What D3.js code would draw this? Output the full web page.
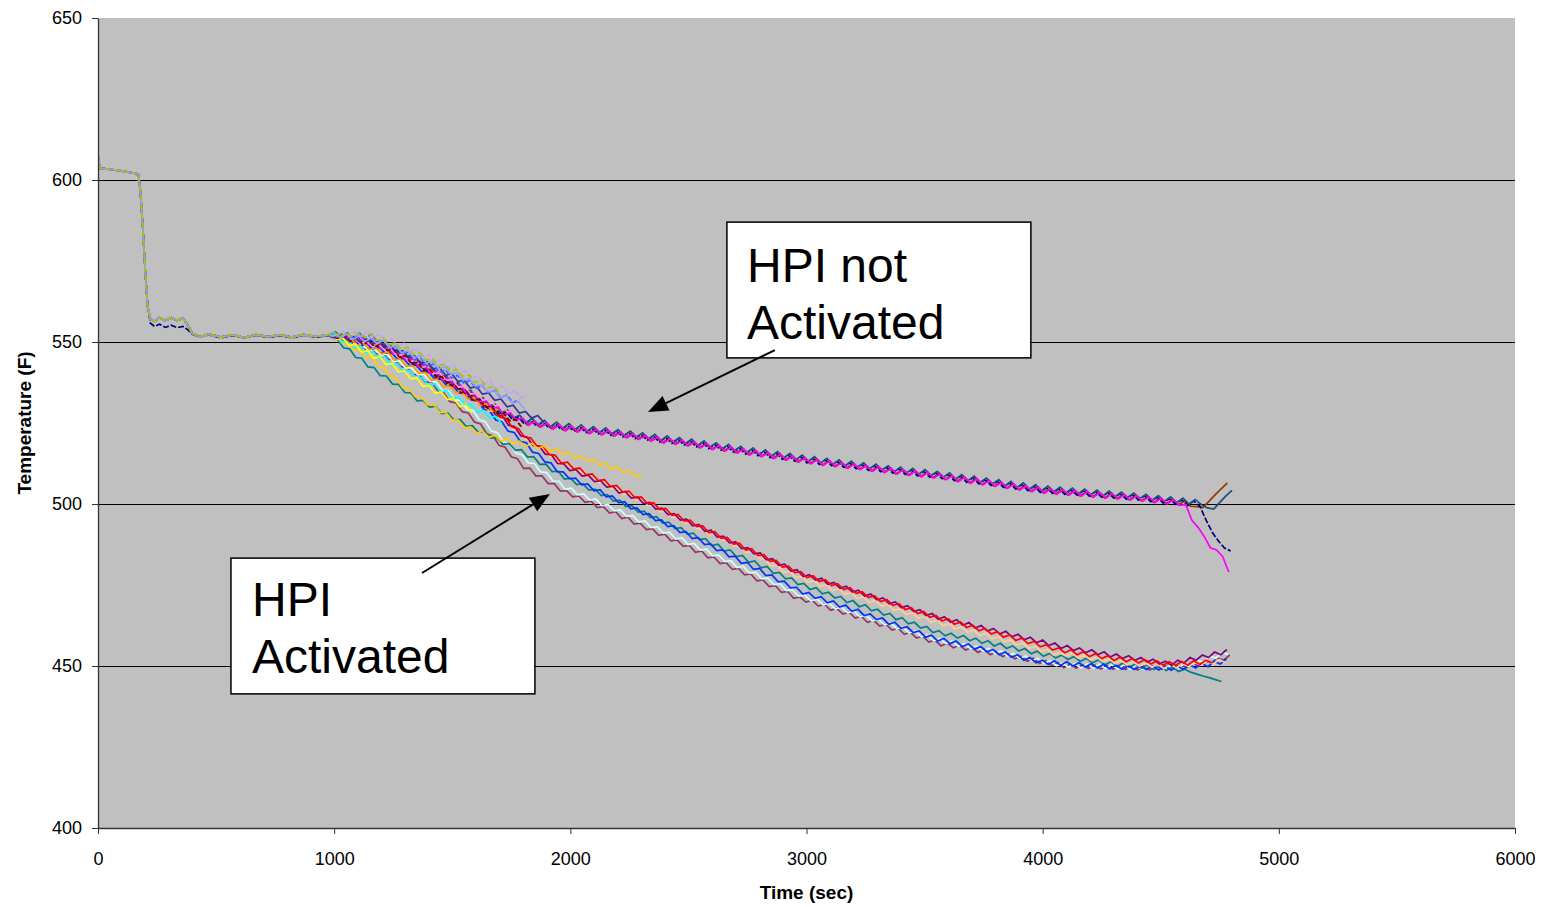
<!DOCTYPE html>
<html>
<head>
<meta charset="utf-8">
<script src="https://cdn.jsdelivr.net/npm/d3@7"></script>
<style>
  body { margin: 0; background: #fff; }
  text { font-family: "Liberation Sans", Arial, sans-serif; }
</style>
</head>
<body>
<svg id="chart" width="1545" height="907"></svg>
<script>
// logger sample interval (sec) for the traces after the common start-up part
var SAMPLE_STEP = 26;

// common start-up transient (0 - 970 sec), identical for all the runs
var prefixTimes = [0, 8, 40, 100, 160, 172, 180, 190, 200, 210, 222, 240, 260, 285, 310, 335, 360, 380, 400, 430, 470, 520, 570, 620, 670, 720, 770, 820, 870, 920, 970];
var prefixA = [607.5, 603.6, 603.4, 602.8, 602.0, 601.5, 596, 585, 572, 561, 557, 556.4, 557.5, 556.6, 557.5, 556.7, 557.3, 555.2, 552.6, 551.6, 552.4, 551.5, 552.2, 551.4, 552.3, 551.6, 552.2, 551.5, 552.3, 551.7, 552.1];
var prefixB = [607.5, 603.6, 603.4, 602.8, 602.0, 601.5, 596, 585, 572, 561, 555.8, 554.8, 555.5, 554.5, 555.2, 554.4, 554.8, 553.8, 552.4, 551.5, 552.2, 551.3, 552.0, 551.3, 552.1, 551.4, 552.0, 551.3, 552.1, 551.5, 551.9];

// ---- HPI not activated (upper band) ----
var navyTemps = [552.6, 550.8, 552.2, 550.4, 551.7, 549.5, 550.4, 548.2, 549.0, 546.5,
  547.2, 544.7, 545.3, 542.7, 543.2, 540.6, 541.2, 538.5, 539.1, 536.4,
  536.9, 534.1, 534.6, 531.8, 532.3, 529.7, 530.3, 527.6, 528.5, 526.1,
  526.9, 524.6, 525.9, 524.0, 525.3, 523.4, 524.8, 522.9, 524.3, 522.5,
  523.9, 522.0, 523.4, 521.6, 523.0, 521.2, 522.5, 520.7, 522.0, 520.2,
  521.5, 519.7, 521.0, 519.1, 520.5, 518.7, 520.0, 518.2, 519.5, 517.6,
  519.0, 517.1, 518.4, 516.6, 517.9, 516.0, 517.3, 515.4, 516.8, 514.9,
  516.2, 514.3, 515.7, 513.8, 515.1, 513.2, 514.6, 512.7, 514.1, 512.2,
  513.6, 511.8, 513.1, 511.3, 512.7, 510.9, 512.2, 510.4, 511.8, 510.0,
  511.3, 509.5, 510.9, 509.1, 510.5, 508.7, 510.1, 508.3, 509.6, 507.8,
  509.1, 507.2, 508.6, 506.7, 508.1, 506.2, 507.5, 505.7, 507.0, 505.1,
  506.5, 504.6, 506.0, 504.1, 505.5, 503.6, 505.0, 503.3, 504.7, 503.0,
  504.4, 502.7, 504.1, 502.4, 503.8, 502.1, 503.5, 501.8, 503.2, 501.5,
  502.9, 501.2, 502.5, 500.7, 502.1, 500.3, 501.7, 499.9, 501.3, 499.5,
  500.9, 499.3, 495.0, 491.3, 488.6, 486.4, 485.5];
var steelTemps = [553.1, 551.3, 552.7, 550.9, 552.2, 550.0, 550.9, 548.7, 549.5, 547.0,
  547.7, 545.2, 545.8, 543.2, 543.7, 541.1, 541.7, 539.0, 539.6, 536.9,
  537.4, 534.6, 535.1, 532.3, 532.8, 530.2, 530.8, 528.1, 529.0, 526.6,
  527.4, 525.1, 526.4, 524.5, 525.8, 523.9, 525.3, 523.4, 524.8, 523.0,
  524.4, 522.5, 523.9, 522.1, 523.5, 521.7, 523.0, 521.2, 522.5, 520.7,
  522.0, 520.2, 521.5, 519.6, 521.0, 519.2, 520.5, 518.7, 520.0, 518.1,
  519.5, 517.6, 518.9, 517.1, 518.4, 516.5, 517.8, 515.9, 517.3, 515.4,
  516.7, 514.8, 516.2, 514.3, 515.6, 513.7, 515.1, 513.2, 514.6, 512.7,
  514.1, 512.3, 513.6, 511.8, 513.2, 511.4, 512.7, 510.9, 512.3, 510.5,
  511.8, 510.0, 511.4, 509.6, 511.0, 509.2, 510.6, 508.8, 510.1, 508.3,
  509.6, 507.7, 509.1, 507.2, 508.6, 506.7, 508.0, 506.2, 507.5, 505.6,
  507.0, 505.1, 506.5, 504.6, 506.0, 504.1, 505.5, 503.8, 505.2, 503.5,
  504.9, 503.2, 504.6, 502.9, 504.3, 502.6, 504.0, 502.3, 503.7, 502.0,
  503.4, 501.7, 503.0, 501.2, 502.6, 500.8, 502.2, 500.4, 501.8, 500.0,
  501.4, 499.8, 498.8, 498.4, 500.5, 502.5, 504.2];
var brownTemps = [552.2, 550.6, 551.8, 550.2, 551.3, 549.3, 550.0, 548.0, 548.6, 546.3,
  546.8, 544.5, 544.9, 542.5, 542.8, 540.4, 540.8, 538.3, 538.7, 536.2,
  536.5, 533.9, 534.2, 531.6, 531.9, 529.5, 529.9, 527.4, 528.1, 525.9,
  526.5, 524.4, 525.5, 523.8, 524.9, 523.2, 524.4, 522.7, 523.9, 522.3,
  523.5, 521.8, 523.0, 521.4, 522.6, 521.0, 522.1, 520.5, 521.6, 520.0,
  521.1, 519.5, 520.6, 518.9, 520.1, 518.5, 519.6, 518.0, 519.1, 517.4,
  518.6, 516.9, 518.0, 516.4, 517.5, 515.8, 516.9, 515.2, 516.4, 514.7,
  515.8, 514.1, 515.3, 513.6, 514.7, 513.0, 514.2, 512.5, 513.7, 512.0,
  513.2, 511.6, 512.7, 511.1, 512.3, 510.7, 511.8, 510.2, 511.4, 509.8,
  510.9, 509.3, 510.5, 508.9, 510.1, 508.5, 509.7, 508.1, 509.2, 507.6,
  508.7, 507.0, 508.2, 506.5, 507.7, 506.0, 507.1, 505.5, 506.6, 504.9,
  506.1, 504.4, 505.6, 503.9, 505.1, 503.4, 504.6, 503.1, 504.3, 502.8,
  504.0, 502.5, 503.7, 502.2, 503.4, 501.9, 503.1, 501.6, 502.8, 501.3,
  502.5, 501.0, 502.1, 500.5, 501.7, 500.1, 501.3, 499.7, 500.9, 499.3,
  499.2, 498.9, 500.8, 502.8, 504.7, 506.5];
var magentaTemps = [552.3, 550.5, 551.9, 550.1, 551.4, 549.2, 550.1, 547.9, 548.7, 546.2,
  546.9, 544.4, 545.0, 542.4, 542.9, 540.3, 540.9, 538.2, 538.8, 536.1,
  536.6, 533.8, 534.3, 531.5, 532.0, 529.4, 530.0, 527.3, 528.2, 525.8,
  526.6, 524.3, 525.6, 523.7, 525.0, 523.1, 524.5, 522.6, 524.0, 522.2,
  523.6, 521.7, 523.1, 521.3, 522.7, 520.9, 522.2, 520.4, 521.7, 519.9,
  521.2, 519.4, 520.7, 518.8, 520.2, 518.4, 519.7, 517.9, 519.2, 517.3,
  518.7, 516.8, 518.1, 516.3, 517.6, 515.7, 517.0, 515.1, 516.5, 514.6,
  515.9, 514.0, 515.4, 513.5, 514.8, 512.9, 514.3, 512.4, 513.8, 511.9,
  513.3, 511.5, 512.8, 511.0, 512.4, 510.6, 511.9, 510.1, 511.5, 509.7,
  511.0, 509.2, 510.6, 508.8, 510.2, 508.4, 509.8, 508.0, 509.3, 507.5,
  508.8, 506.9, 508.3, 506.4, 507.8, 505.9, 507.2, 505.4, 506.7, 504.8,
  506.2, 504.3, 505.7, 503.8, 505.2, 503.3, 504.7, 503.0, 504.4, 502.7,
  504.1, 502.4, 503.8, 502.1, 503.5, 501.8, 503.2, 501.5, 502.9, 501.2,
  502.6, 500.9, 502.2, 500.4, 501.8, 500.0, 501.4, 499.6, 499.8, 495.0,
  492.8, 490.0, 486.5, 485.8, 483.8, 479.0];

// ---- HPI activated (lower band) ----
var redTemps = [552.1, 550.6, 551.5, 549.9, 550.8, 549.3, 550.2, 548.6, 549.3, 547.2,
  547.5, 545.4, 545.7, 543.6, 543.9, 541.8, 541.8, 539.4, 539.4, 536.9,
  536.9, 534.5, 534.4, 532.0, 531.9, 529.4, 529.3, 526.8, 526.4, 523.7,
  523.3, 520.6, 520.4, 517.9, 517.8, 515.3, 515.0, 512.6, 512.9, 510.8,
  511.1, 509.0, 509.3, 507.2, 507.5, 505.4, 505.7, 503.7, 504.0, 501.9,
  502.2, 500.1, 500.4, 498.3, 498.6, 496.5, 496.8, 494.7, 495.0, 493.0,
  493.3, 491.2, 491.5, 489.4, 489.7, 487.6, 487.9, 485.8, 486.2, 484.1,
  484.4, 482.3, 482.6, 480.5, 480.8, 478.8, 479.1, 477.3, 477.9, 476.1,
  476.6, 474.8, 475.4, 473.6, 474.2, 472.4, 472.9, 471.1, 471.7, 469.9,
  470.5, 468.7, 469.2, 467.4, 468.0, 466.2, 466.8, 465.0, 465.6, 463.9,
  464.6, 462.9, 463.6, 461.9, 462.6, 460.9, 461.6, 459.9, 460.6, 458.9,
  459.6, 457.9, 458.6, 456.9, 457.6, 455.9, 456.6, 454.9, 455.6, 454.1,
  455.0, 453.5, 454.4, 452.9, 453.8, 452.3, 453.2, 451.7, 452.7, 451.3,
  452.3, 450.9, 452.0, 450.6, 451.6, 450.2, 451.3, 450.2, 451.4, 450.3,
  451.6, 450.5, 451.8, 450.9];
var purpleTemps = [550.9, 551.8, 550.3, 551.1, 549.5, 550.4, 548.9, 549.7, 548.0, 548.3,
  546.2, 546.4, 544.3, 544.6, 542.5, 542.8, 540.4, 540.4, 537.9, 537.8,
  535.4, 535.2, 532.6, 532.6, 530.0, 529.9, 527.3, 527.2, 524.3, 523.9,
  521.1, 520.7, 518.1, 517.9, 515.4, 515.2, 512.5, 512.4, 510.3, 510.6,
  508.6, 508.9, 506.9, 507.2, 505.2, 505.5, 503.4, 503.9, 501.8, 502.2,
  500.1, 500.5, 498.4, 498.7, 496.7, 497.0, 495.0, 495.3, 493.3, 493.7,
  491.6, 491.9, 489.8, 490.1, 488.0, 488.3, 486.2, 486.5, 484.6, 484.9,
  482.8, 483.1, 481.1, 481.4, 479.3, 479.7, 477.6, 478.2, 476.5, 477.1,
  475.2, 475.8, 474.0, 474.6, 472.8, 473.4, 471.6, 472.2, 470.4, 471.0,
  469.2, 469.8, 468.0, 468.6, 466.8, 467.4, 465.6, 466.2, 464.4, 465.2,
  463.5, 464.3, 462.6, 463.4, 461.7, 462.5, 460.8, 461.6, 459.9, 460.7,
  459.0, 459.8, 458.1, 458.9, 457.2, 458.0, 456.3, 457.1, 455.4, 456.3,
  454.8, 455.6, 454.1, 455.0, 453.5, 454.4, 452.8, 453.7, 452.3, 453.2,
  451.7, 452.6, 451.2, 452.1, 450.6, 451.5, 450.2, 451.8, 450.9, 452.6,
  451.8, 453.4, 452.6, 454.3, 453.5, 455.1];
var peachTemps = [552.1, 550.6, 551.5, 549.9, 550.8, 549.3, 550.2, 548.6, 549.3, 547.2,
  547.5, 545.1, 545.4, 543.3, 543.6, 541.5, 541.5, 539.1, 539.1, 536.6,
  536.6, 533.8, 533.7, 531.3, 531.2, 528.7, 528.6, 526.1, 525.7, 523.0,
  522.6, 519.9, 519.7, 517.2, 517.1, 514.6, 514.3, 511.9, 512.2, 510.1,
  510.4, 508.3, 508.6, 506.5, 506.8, 504.7, 505.0, 503.0, 503.3, 501.2,
  501.5, 499.4, 499.7, 497.6, 497.9, 495.8, 496.1, 494.0, 494.3, 492.3,
  492.6, 490.5, 490.8, 488.7, 489.0, 486.9, 487.2, 485.1, 485.5, 483.4,
  482.9, 480.8, 481.1, 479.0, 479.3, 477.3, 477.6, 475.8, 476.4, 474.6,
  475.1, 473.3, 473.9, 472.1, 472.7, 470.9, 471.4, 469.6, 470.2, 468.4,
  469.0, 467.2, 467.7, 465.9, 466.5, 464.7, 465.3, 463.5, 464.1, 462.4,
  463.1, 461.4, 462.1, 460.4, 461.1, 459.4, 460.1, 458.4, 459.1, 457.4,
  458.1, 456.4, 457.1, 455.4, 456.1, 454.4, 455.1, 453.4, 454.1, 453.1,
  454.0, 452.5, 453.4, 451.9, 452.8, 451.3, 452.2, 450.7, 451.7, 450.3,
  451.3, 449.9, 451.0, 449.6, 450.6, 449.2, 450.5, 449.4, 450.8, 449.8,
  451.2, 450.2, 451.6, 450.6, 452.0, 451.0];
var tealTemps = [550.9, 548.2, 547.9, 545.2, 545.0, 542.3, 542.1, 539.6, 539.5, 537.0,
  536.9, 534.4, 534.3, 531.8, 532.0, 529.9, 530.1, 527.9, 528.1, 525.9,
  526.1, 524.0, 524.2, 522.1, 522.4, 520.3, 520.5, 518.4, 518.7, 516.6,
  516.8, 514.5, 514.6, 512.2, 512.3, 510.0, 510.1, 507.7, 508.0, 506.0,
  506.3, 504.3, 504.6, 502.6, 502.9, 500.9, 501.2, 499.2, 499.5, 497.5,
  497.8, 495.8, 496.1, 494.1, 494.4, 492.4, 492.7, 490.7, 491.0, 489.0,
  489.3, 487.2, 487.6, 485.5, 485.8, 483.8, 484.1, 482.0, 482.4, 480.3,
  480.7, 478.6, 478.9, 476.9, 477.2, 475.1, 475.5, 473.6, 474.2, 472.3,
  472.8, 471.0, 471.5, 469.6, 470.2, 468.3, 468.9, 467.0, 467.5, 465.7,
  466.2, 464.3, 464.9, 463.0, 463.5, 461.7, 462.2, 460.3, 460.9, 459.3,
  460.1, 458.6, 459.4, 457.8, 458.6, 457.0, 457.8, 456.2, 457.0, 455.4,
  456.2, 454.6, 455.4, 453.8, 454.6, 453.0, 453.9, 452.5, 453.4, 452.0,
  452.9, 451.4, 452.4, 450.9, 451.9, 450.4, 451.3, 449.9, 450.9, 449.6,
  450.6, 449.3, 450.3, 448.9, 450.0, 448.6, 449.7, 448.3, 449.0, 448.1,
  447.5, 446.9, 446.4, 445.8, 445.2];
var blueTemps = [550.9, 551.6, 549.9, 550.5, 548.8, 549.5, 547.8, 548.5, 546.6, 546.8,
  544.7, 544.9, 542.7, 542.9, 540.8, 541.0, 538.7, 538.8, 536.5, 536.6,
  534.3, 534.4, 532.1, 532.2, 529.3, 528.8, 525.9, 525.4, 522.5, 522.1,
  519.3, 518.9, 516.0, 515.6, 513.0, 512.7, 510.0, 509.9, 507.8, 508.0,
  505.9, 506.2, 504.1, 504.4, 502.2, 502.5, 500.4, 500.7, 498.5, 498.8,
  496.7, 497.0, 494.9, 495.1, 493.0, 493.3, 491.2, 491.5, 489.3, 489.6,
  487.5, 487.7, 485.6, 485.8, 483.7, 483.9, 481.7, 482.0, 479.8, 480.1,
  477.9, 478.1, 476.0, 476.2, 474.1, 474.3, 472.2, 472.7, 470.9, 471.4,
  469.5, 470.1, 468.2, 468.8, 466.9, 467.5, 465.6, 466.1, 464.3, 464.8,
  462.9, 463.5, 461.6, 462.1, 460.3, 460.8, 458.9, 459.5, 457.7, 458.5,
  456.9, 457.7, 456.0, 456.8, 455.2, 456.0, 454.4, 455.1, 453.5, 454.3,
  452.7, 453.5, 451.8, 452.6, 451.0, 451.8, 450.5, 451.6, 450.2, 451.3,
  450.0, 451.0, 449.7, 450.7, 449.4, 450.5, 449.1, 450.2, 449.0, 450.1,
  448.9, 450.1, 448.9, 450.0, 448.8, 450.0, 448.7, 450.0, 449.0, 450.4,
  449.4, 450.8, 449.8, 451.4, 450.6, 452.2];
var lightCyanTemps = [552.1, 550.2, 550.7, 548.8, 549.2, 547.3, 547.8, 545.9, 546.3, 544.0,
  544.2, 542.0, 542.1, 539.9, 540.0, 537.8, 537.7, 535.1, 534.9, 532.2,
  531.9, 529.2, 528.9, 526.0, 525.4, 522.5, 522.0, 519.1, 518.6, 515.7,
  515.2, 512.7, 512.5, 509.9, 509.7, 507.1, 507.0, 504.5, 504.9, 502.8,
  503.2, 501.2, 501.6, 499.5, 499.9, 497.9, 498.2, 496.2, 496.5, 494.4,
  494.8, 492.7, 493.0, 491.0, 491.3, 489.2, 489.6, 487.5, 487.8, 485.8,
  486.1, 484.0, 484.3, 482.2, 482.5, 480.4, 480.8, 478.7, 479.0, 476.9,
  477.2, 475.1, 475.4, 473.3, 473.6, 471.6, 471.9, 470.1, 470.7, 468.9,
  469.4, 467.6, 468.2, 466.4, 467.0, 465.2, 465.7, 463.9, 464.5, 462.7,
  463.3, 461.5, 462.0, 460.2, 460.8, 459.0, 459.6, 457.8, 458.4, 456.9,
  457.7, 456.1, 456.9, 455.3, 456.2, 454.6, 455.4, 453.8, 454.7, 453.1,
  453.9, 452.3, 453.1, 451.6, 452.4, 450.8, 451.6, 450.1, 450.9, 449.6,
  450.7, 449.4, 450.6, 449.3, 450.5, 449.2, 450.4, 449.1, 450.3, 449.0,
  450.2, 448.9, 450.2, 449.1, 450.4, 449.3, 450.6, 449.5, 450.9, 450.0,
  451.8, 451.2, 453.0, 452.4, 454.2, 453.6];
var mauveTemps = [550.9, 551.4, 549.5, 550.0, 547.7, 548.2, 546.3, 546.8, 544.6, 544.6,
  542.3, 542.3, 539.9, 540.0, 537.6, 537.7, 535.0, 534.3, 531.6, 531.2,
  528.5, 528.1, 525.3, 524.7, 521.7, 521.1, 518.1, 517.5, 514.6, 514.0,
  511.0, 511.1, 508.7, 508.7, 506.3, 506.3, 504.0, 504.1, 502.2, 502.5,
  500.5, 500.9, 498.9, 499.2, 497.2, 497.6, 495.5, 495.9, 493.8, 494.1,
  492.1, 492.4, 490.3, 490.7, 488.6, 488.9, 486.9, 487.2, 485.1, 485.5,
  483.4, 483.7, 481.6, 481.9, 479.8, 480.1, 478.1, 478.4, 476.3, 476.6,
  474.5, 474.8, 472.7, 473.0, 470.9, 471.3, 469.7, 470.3, 468.5, 469.1,
  467.2, 467.8, 466.0, 466.6, 464.8, 465.4, 463.5, 464.1, 462.3, 462.9,
  461.1, 461.7, 459.8, 460.4, 458.6, 459.2, 457.4, 458.0, 456.2, 457.1,
  455.6, 456.4, 454.9, 455.7, 454.2, 455.1, 453.5, 454.4, 452.9, 453.7,
  452.2, 453.0, 451.5, 452.4, 450.8, 451.7, 450.1, 451.1, 449.5, 450.6,
  449.3, 450.4, 449.2, 450.3, 449.1, 450.2, 449.0, 450.1, 448.9, 450.0,
  448.8, 449.9, 448.8, 450.1, 449.0, 450.3, 449.2, 450.5, 449.5, 450.7,
  450.0, 451.6, 450.9, 452.5, 451.8, 453.4];
var amberTemps = [552.1, 549.8, 549.8, 547.5, 547.6, 545.2, 545.2, 542.4, 541.9, 539.1,
  538.6, 535.8, 535.6, 533.1, 533.1, 530.7, 530.7, 528.3, 528.3, 525.9,
  525.9, 523.5, 523.8, 521.9, 522.5, 520.6, 521.2, 519.4, 520.2, 518.6,
  519.4, 517.8, 518.7, 517.1, 517.9, 516.3, 517.0, 515.3, 516.0, 514.2,
  514.9, 513.1, 513.8, 512.0, 512.6, 510.8, 511.4, 509.6, 510.2, 508.4,
  509.1];

// ---- runs that stop early (about 1700 - 1900 sec) ----
var limeTemps = [553.0, 551.6, 553.0, 551.4, 552.9, 551.4, 552.5, 550.4, 551.2, 549.1,
  549.8, 547.7, 548.3, 546.1, 546.6, 544.4, 544.9, 542.7, 543.2, 541.0,
  541.5, 539.3, 539.8, 537.5, 538.0, 535.8, 536.3, 534.0];
var violetTemps = [551.7, 553.3, 551.7, 553.3, 551.7, 553.3, 551.5, 552.4, 550.1, 551.0,
  548.7, 549.6, 547.4, 548.0, 545.5, 546.2, 543.8, 544.5, 542.0, 542.7,
  540.3, 541.1, 538.7, 539.5, 537.2, 538.0, 535.6, 536.4, 534.0, 535.0,
  532.7, 533.7];
var blueDashTemps = [552.8, 551.2, 552.8, 551.2, 552.8, 551.2, 552.4, 549.9, 550.6, 548.1,
  548.7, 546.2, 546.9, 544.4, 545.0, 542.5, 543.2, 540.7, 541.4, 538.9,
  539.7, 537.3, 538.1, 535.7, 536.5, 534.2, 535.1, 532.8, 533.6, 531.3,
  532.2];
var darkRedTemps = [551.1, 552.1, 550.2, 551.2, 549.4, 550.4, 548.5, 549.5, 547.5, 547.8,
  545.4, 545.8, 543.3, 543.7, 541.2, 541.6, 539.1, 539.3, 536.7, 536.9,
  534.4, 534.6, 532.0, 532.3, 529.8, 530.2, 527.8, 528.1, 525.7, 526.0,
  523.6];
var aquaTemps = [552.2, 550.0, 550.5, 548.3, 548.8, 546.6, 547.1, 544.9, 545.4, 542.9,
  543.3, 540.9, 541.2, 538.8, 539.1, 536.7, 537.1, 534.6, 535.0, 532.5,
  532.9, 530.5, 530.8, 528.4, 528.9, 526.6, 527.1, 524.7];
var yellowTemps = [550.8, 551.2, 548.9, 549.3, 546.9, 547.3, 545.0, 545.4, 543.0, 543.3,
  540.8, 541.1, 538.6, 538.9, 536.3, 536.6, 534.2, 534.6, 532.2, 532.6,
  530.1, 530.5, 528.1];
var orangeTemps = [552.2, 550.2, 550.9, 548.9, 549.6, 547.6, 548.3, 546.3, 546.9, 544.4,
  544.8, 542.4, 542.7, 540.3, 540.6, 538.2, 538.6, 536.2, 536.6, 534.3,
  534.7, 532.4, 532.8, 530.4, 530.9, 528.7, 529.2];
var pinkTemps = [551.3, 552.2, 550.4, 551.3, 549.5, 550.4, 548.6, 549.5, 547.5, 548.0,
  545.7, 546.2, 543.9, 544.4, 542.1, 542.6, 540.2, 540.5, 538.1, 538.5,
  536.0, 536.4, 533.9, 534.3, 532.0, 532.5, 530.2, 530.7, 528.4, 528.9];
var periwinkleTemps = [553.0, 551.3, 552.4, 550.7, 551.8, 550.1, 551.2, 549.5, 550.5, 548.3,
  548.9, 546.7, 547.3, 545.2, 545.8, 543.6, 544.1, 541.8, 542.3, 540.0,
  540.5, 538.2, 538.7, 536.4, 536.9, 534.6, 535.1, 532.8, 533.4, 531.1,
  531.6, 529.3];
var slateTemps = [551.3, 552.4, 550.7, 551.7, 550.0, 551.1, 549.4, 550.4, 548.5, 549.0,
  546.8, 547.3, 545.1, 545.7, 543.4, 544.0, 541.7, 542.1, 539.7, 540.2,
  537.8, 538.2, 535.8, 536.3, 533.9, 534.3, 532.0, 532.4, 530.0, 530.5,
  528.1, 528.6, 526.5, 527.3, 525.2];

// axes
var xTicks = [0, 1000, 2000, 3000, 4000, 5000, 6000];
var yTicks = [400, 450, 500, 550, 600, 650];
var gridTemps = [450, 500, 550, 600];

// draw order: first in list is painted first
var series = [
  {temps: mauveTemps, start: 1022, color: "#993366", prefix: prefixA},
  {temps: lightCyanTemps, start: 1016, color: "#CCFFFF", prefix: prefixA},
  {temps: tealTemps, start: 1013, color: "#008080", prefix: prefixA},
  {temps: blueTemps, start: 1008, color: "#0033FF", prefix: prefixA},
  {temps: peachTemps, start: 1004, color: "#FFCC99", prefix: prefixA},
  {temps: purpleTemps, start: 1010, color: "#800080", prefix: prefixA},
  {temps: redTemps, start: 1000, color: "#FF0000", prefix: prefixA},
  {temps: amberTemps, start: 1005, color: "#FFCC00", prefix: prefixA},
  {temps: brownTemps, start: 1012, color: "#993300", prefix: prefixA},
  {temps: navyTemps, start: 1000, color: "#000080", prefix: prefixB, dash: "6,2"},
  {temps: steelTemps, start: 1006, color: "#1F4E79", prefix: prefixA},
  {temps: magentaTemps, start: 1018, color: "#FF00FF", prefix: prefixA},
  {temps: orangeTemps, start: 1020, color: "#FF9900", prefix: prefixA},
  {temps: aquaTemps, start: 1008, color: "#00FFFF", prefix: prefixA},
  {temps: yellowTemps, start: 1012, color: "#FFFF00", prefix: prefixA},
  {temps: pinkTemps, start: 1006, color: "#FF99CC", prefix: prefixA},
  {temps: darkRedTemps, start: 1015, color: "#800000", prefix: prefixA, dash: "5,2"},
  {temps: slateTemps, start: 1004, color: "#333399", prefix: prefixA},
  {temps: blueDashTemps, start: 1003, color: "#3366FF", prefix: prefixA, dash: "5,2"},
  {temps: violetTemps, start: 1010, color: "#CC99FF", prefix: prefixA, dash: "5,2"},
  {temps: periwinkleTemps, start: 1000, color: "#9999FF", prefix: prefixA},
  {temps: limeTemps, start: 1000, color: "#99CC00", prefix: prefixA, dash: "6,3"}
];

// call-out boxes, in data units
var notes = [
  {lines: ["HPI not", "Activated"], x0: 2663, x1: 3950, y0: 587.0, y1: 545.1, tx: 2748, ty: [568.5, 550.9],
   arrow: {from: [2866, 547.5], to: [2329, 528.4]}},
  {lines: ["HPI", "Activated"], x0: 563, x1: 1850, y0: 483.3, y1: 441.4, tx: 652, ty: [465.4, 447.8],
   arrow: {from: [1372, 478.7], to: [1914, 503.1]}}
];

var x = d3.scaleLinear().domain([0, 6000]).range([98, 1515]);
var y = d3.scaleLinear().domain([400, 650]).range([828, 18]);
var svg = d3.select("#chart");

// plot area
svg.append("rect")
    .attr("x", x(0)).attr("y", y(650))
    .attr("width", x(6000) - x(0)).attr("height", y(400) - y(650))
    .attr("fill", "#C0C0C0");

svg.append("defs").append("clipPath").attr("id", "plotclip")
  .append("rect")
    .attr("x", x(0)).attr("y", y(650))
    .attr("width", x(6000) - x(0)).attr("height", y(400) - y(650));

svg.append("g").selectAll("line")
    .data(gridTemps)
    .enter().append("line")
    .attr("x1", x(0)).attr("x2", x(6000))
    .attr("y1", function (d) { return y(d); })
    .attr("y2", function (d) { return y(d); })
    .attr("stroke", "#000")
    .attr("stroke-width", 1)
    .attr("shape-rendering", "crispEdges");

// traces
var line = d3.line()
    .x(function (d) { return x(d[0]); })
    .y(function (d) { return y(d[1]); });

var traces = svg.append("g").attr("clip-path", "url(#plotclip)");
series.forEach(function (s) {
  var pts = prefixTimes.map(function (t, i) { return [t, s.prefix[i]]; });
  s.temps.forEach(function (v, i) { pts.push([s.start + i * SAMPLE_STEP, v]); });
  traces.append("path")
      .attr("d", line(pts))
      .attr("fill", "none")
      .attr("stroke", s.color)
      .attr("stroke-width", 1.7)
      .attr("stroke-linejoin", "miter")
      .attr("stroke-dasharray", s.dash || null);
});

// axes (plain integer labels, no thousands separator)
var gy = svg.append("g")
    .attr("transform", "translate(" + x(0) + ",0)")
    .call(d3.axisLeft(y).tickValues(yTicks).tickFormat(d3.format("d"))
      .tickSize(6).tickSizeOuter(0).tickPadding(10));
var gx = svg.append("g")
    .attr("transform", "translate(0," + y(400) + ")")
    .call(d3.axisBottom(x).tickValues(xTicks).tickFormat(d3.format("d"))
      .tickSize(6).tickSizeOuter(0).tickPadding(18));
[gx, gy].forEach(function (g) {
  g.attr("font-family", "Liberation Sans, Arial, sans-serif").attr("font-size", 18);
  g.select(".domain").attr("stroke", "#333").attr("stroke-width", 1.3);
  g.selectAll(".tick line").attr("stroke", "#333");
  g.selectAll(".tick text").attr("fill", "#000");
});

svg.append("text")
    .attr("x", (x(0) + x(6000)) / 2).attr("y", 899)
    .attr("text-anchor", "middle")
    .attr("font-size", 19).attr("font-weight", "bold")
    .text("Time (sec)");
svg.append("text")
    .attr("transform", "translate(31," + ((y(400) + y(650)) / 2) + ") rotate(-90)")
    .attr("text-anchor", "middle")
    .attr("font-size", 19).attr("font-weight", "bold")
    .text("Temperature (F)");

// call-outs
notes.forEach(function (n) {
  var g = svg.append("g");
  g.append("rect")
      .attr("x", x(n.x0)).attr("y", y(n.y0))
      .attr("width", x(n.x1) - x(n.x0)).attr("height", y(n.y1) - y(n.y0))
      .attr("fill", "#fff").attr("stroke", "#000").attr("stroke-width", 1.5);
  n.lines.forEach(function (txt, i) {
    g.append("text")
        .attr("x", x(n.tx)).attr("y", y(n.ty[i]))
        .attr("font-size", 48)
        .text(txt);
  });
  var x1 = x(n.arrow.from[0]), y1 = y(n.arrow.from[1]);
  var x2 = x(n.arrow.to[0]), y2 = y(n.arrow.to[1]);
  var len = Math.sqrt((x2 - x1) * (x2 - x1) + (y2 - y1) * (y2 - y1));
  var ux = (x2 - x1) / len, uy = (y2 - y1) / len;
  var headLen = 20, headHalf = 8;
  var bx = x2 - ux * headLen, by = y2 - uy * headLen;
  svg.append("line")
      .attr("x1", x1).attr("y1", y1).attr("x2", bx).attr("y2", by)
      .attr("stroke", "#000").attr("stroke-width", 2);
  svg.append("path")
      .attr("d", "M" + x2 + "," + y2 +
                 "L" + (bx - uy * headHalf) + "," + (by + ux * headHalf) +
                 "L" + (bx + uy * headHalf) + "," + (by - ux * headHalf) + "Z")
      .attr("fill", "#000");
});
</script>
</body>
</html>
